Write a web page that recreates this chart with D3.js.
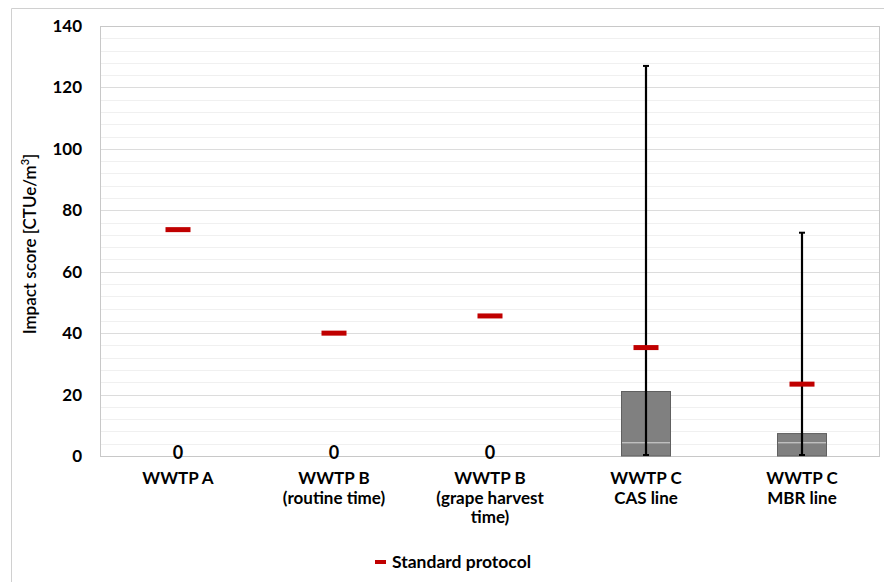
<!DOCTYPE html>
<html>
<head>
<meta charset="utf-8">
<script src="https://cdn.jsdelivr.net/npm/d3@7"></script>
<style>
  body { margin: 0; background: #fff; overflow: hidden; }
  svg { display: block; }
  text { font-family: Lato, "Open Sans", sans-serif; font-weight: bold; fill: #000; }
</style>
</head>
<body>
<div id="chart"></div>
<script>
const categories = [
    ["WWTP A"],
    ["WWTP B", "(routine time)"],
    ["WWTP B", "(grape harvest", "time)"],
    ["WWTP C", "CAS line"],
    ["WWTP C", "MBR line"]
];
const barLower = [0, 0, 0, 4.3, 4.3];
const barTotal = [0, 0, 0, 21, 7.3];
const errorHigh = [null, null, null, 127, 72.7];
const standardProtocol = [73.7, 40, 45.6, 35.3, 23.4];
const zeroLabels = ["0", "0", "0", null, null];
const yTicks = [0, 20, 40, 60, 80, 100, 120, 140];

const width = 884, height = 582;
const margin = {top: 26, right: 4, bottom: 126, left: 100};
const innerWidth = width - margin.left - margin.right;
const innerHeight = height - margin.top - margin.bottom;

const svg = d3.select("#chart").append("svg")
    .attr("width", width)
    .attr("height", height);

// outer chart frame (only left and top edges are inside the picture)
svg.append("path")
    .attr("d", `M11.5,${height}V8.5H${width}`)
    .attr("fill", "none")
    .attr("stroke", "#d0d0d0");

const g = svg.append("g").attr("transform", `translate(${margin.left},${margin.top})`);

const x = d3.scaleBand()
    .domain(d3.range(categories.length))
    .range([0, innerWidth])
    .padding(0);

const y = d3.scaleLinear()
    .domain([0, 140])
    .range([innerHeight, 0]);

// minor gridlines
g.selectAll(".minor")
    .data(d3.range(0, 141, 4).filter(v => v % 20 !== 0))
    .enter().append("line")
    .attr("x1", 0).attr("x2", innerWidth)
    .attr("y1", d => Math.round(y(d)) + 0.5).attr("y2", d => Math.round(y(d)) + 0.5)
    .attr("stroke", "#f0f0f0");

// major gridlines
g.selectAll(".major")
    .data(yTicks)
    .enter().append("line")
    .attr("x1", 0).attr("x2", innerWidth)
    .attr("y1", d => Math.round(y(d)) + 0.5).attr("y2", d => Math.round(y(d)) + 0.5)
    .attr("stroke", "#dcdcdc");

// plot frame
g.append("rect")
    .attr("x", 0.5).attr("y", 0.5)
    .attr("width", innerWidth - 1).attr("height", innerHeight)
    .attr("fill", "none")
    .attr("stroke", "#c8c8c8");

const barW = 49;
const cx = i => x(i) + x.bandwidth() / 2;

// bars
const bars = g.selectAll(".bar")
    .data(barTotal.map((v, i) => ({i, v, lo: barLower[i]})).filter(d => d.v > 0))
    .enter().append("g");

bars.append("rect")
    .attr("x", d => cx(d.i) - barW / 2)
    .attr("y", d => y(d.v))
    .attr("width", barW)
    .attr("height", d => y(0) - y(d.v))
    .attr("fill", "#808080")
    .attr("stroke", "#606060")
    .attr("stroke-width", 1);

bars.append("line")
    .attr("x1", d => cx(d.i) - barW / 2 + 0.5)
    .attr("x2", d => cx(d.i) + barW / 2 - 0.5)
    .attr("y1", d => y(d.lo)).attr("y2", d => y(d.lo))
    .attr("stroke", "#d8d8d8")
    .attr("stroke-width", 1);

// error bars
const errs = g.selectAll(".err")
    .data(errorHigh.map((v, i) => ({i, v})).filter(d => d.v !== null))
    .enter().append("g");

errs.append("line")
    .attr("x1", d => cx(d.i)).attr("x2", d => cx(d.i))
    .attr("y1", y(0)).attr("y2", d => y(d.v))
    .attr("stroke", "#000").attr("stroke-width", 2.2);

errs.append("line")
    .attr("x1", d => cx(d.i) - 3).attr("x2", d => cx(d.i) + 3)
    .attr("y1", d => y(d.v)).attr("y2", d => y(d.v))
    .attr("stroke", "#000").attr("stroke-width", 2);

errs.append("line")
    .attr("x1", d => cx(d.i) - 3).attr("x2", d => cx(d.i) + 3)
    .attr("y1", y(0) - 1).attr("y2", y(0) - 1)
    .attr("stroke", "#000").attr("stroke-width", 2);

// standard protocol markers
g.selectAll(".marker")
    .data(standardProtocol)
    .enter().append("rect")
    .attr("x", (d, i) => cx(i) - 12.5)
    .attr("y", d => y(d) - 2.5)
    .attr("width", 25)
    .attr("height", 5)
    .attr("fill", "#c00000");

// zero labels
g.selectAll(".zero")
    .data(zeroLabels.map((t, i) => ({t, i})).filter(d => d.t))
    .enter().append("text")
    .attr("x", d => cx(d.i))
    .attr("y", y(0) + 3)
    .attr("text-anchor", "middle")
    .style("font-size", "18px")
    .text(d => d.t);

// y axis labels
const yAxis = g.append("g")
    .call(d3.axisLeft(y).tickValues(yTicks).tickSize(0).tickPadding(18));
yAxis.select(".domain").remove();
yAxis.selectAll("text")
    .style("font-family", "Lato, 'Open Sans', sans-serif")
    .style("font-weight", "bold")
    .style("font-size", "17px")
    .attr("fill", "#000");

// x category labels
const xl = g.selectAll(".cat")
    .data(categories)
    .enter().append("text")
    .attr("text-anchor", "middle")
    .attr("transform", (d, i) => `translate(${cx(i)},${innerHeight + 28})`)
    .style("font-size", "17px");
xl.selectAll("tspan")
    .data(d => d)
    .enter().append("tspan")
    .attr("x", 0)
    .attr("dy", (d, j) => j === 0 ? 0 : 19.5)
    .text(d => d);

// y axis title
const title = svg.append("text")
    .attr("transform", `translate(36,${margin.top + innerHeight / 2 + 3}) rotate(-90)`)
    .attr("text-anchor", "middle")
    .style("font-size", "17px")
    .style("font-weight", "600");
title.append("tspan").text("Impact score [CTUe/m");
title.append("tspan").attr("dy", -7).style("font-size", "11px").text("3");
title.append("tspan").attr("dy", 7).text("]");

// legend
const legend = svg.append("g").attr("transform", "translate(375,562)");
legend.append("rect")
    .attr("x", 0).attr("y", -2)
    .attr("width", 11).attr("height", 4)
    .attr("fill", "#c00000");
legend.append("text")
    .attr("x", 17).attr("y", 6)
    .style("font-size", "17.5px")
    .text("Standard protocol");
</script>
</body>
</html>
